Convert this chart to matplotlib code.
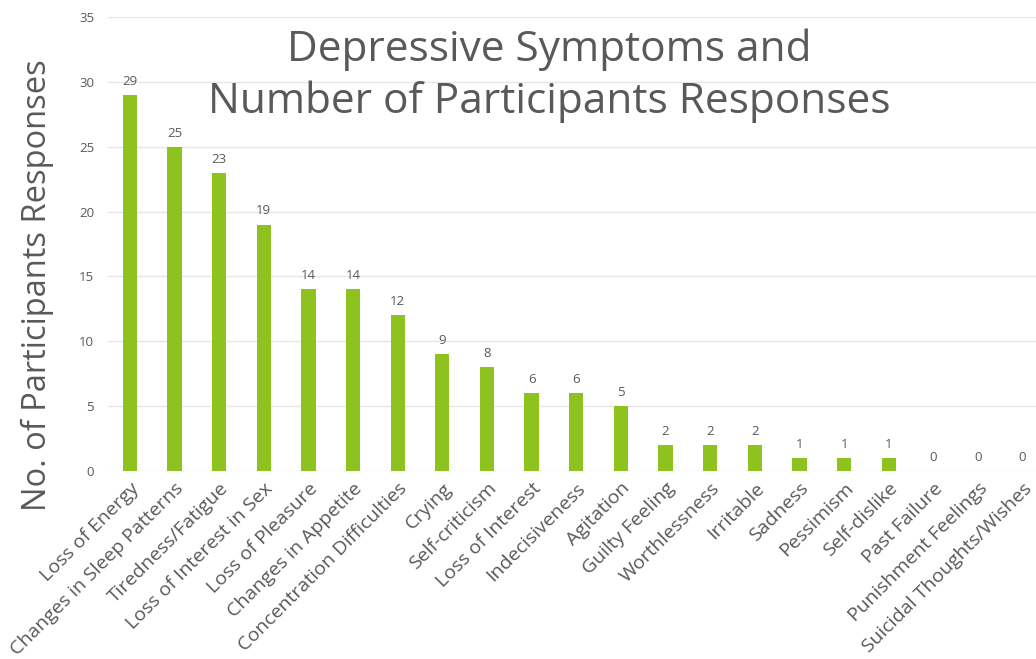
import matplotlib
matplotlib.use("Agg")
import matplotlib.pyplot as plt

categories = ["Loss of Energy", "Changes in Sleep Patterns", "Tiredness/Fatigue",
              "Loss of Interest in Sex", "Loss of Pleasure", "Changes in Appetite",
              "Concentration Difficulties", "Crying", "Self-criticism", "Loss of Interest",
              "Indecisiveness", "Agitation", "Guilty Feeling", "Worthlessness", "Irritable",
              "Sadness", "Pessimism", "Self-dislike", "Past Failure", "Punishment Feelings",
              "Suicidal Thoughts/Wishes"]
values = [29, 25, 23, 19, 14, 14, 12, 9, 8, 6, 6, 5, 2, 2, 2, 1, 1, 1, 0, 0, 0]
yticks = [0, 5, 10, 15, 20, 25, 30, 35]

FONT = ["Open Sans", "DejaVu Sans"]
plt.rcParams['font.family'] = FONT
TXT = "#595959"
BAR = "#8DC21F"
GRID = "#E6E6E6"

W, H = 1036, 659
fig = plt.figure(figsize=(W / 100, H / 100), dpi=100)
left, right = 108 / W, 1.0
bottom, top = 1 - 471 / H, 1 - 17 / H
ax = fig.add_axes([left, bottom, right - left, top - bottom])

x = list(range(len(categories)))
bars = ax.bar(x, values, width=0.32, color=BAR, zorder=3)
for xi, v in zip(x, values):
    ax.text(xi, v + 0.55, str(v), ha="center", va="bottom", fontsize=9.5, color=TXT)

ax.set_ylim(0, 35)
ax.set_xlim(-0.49, len(categories) - 0.7)
ax.set_yticks(yticks)
ax.set_yticklabels([str(t) for t in yticks], fontsize=9.5, color=TXT)
ax.yaxis.grid(True, color=GRID, linewidth=1, zorder=0)
ax.set_axisbelow(True)
for s in ax.spines.values():
    s.set_visible(False)
ax.tick_params(axis="both", length=0)
ax.tick_params(axis="y", pad=10)
ax.set_xticks(x)
ax.set_xticklabels(categories, rotation=45, ha="right", rotation_mode="anchor",
                   fontsize=14, color=TXT)
ax.tick_params(axis="x", pad=6)

fig.text(37 / W, 1 - 285 / H, "No. of Participants Responses", rotation=90,
         ha="center", va="center", fontsize=23.5, color=TXT)

fig.text(549 / W, 1 - 61 / H, "Depressive Symptoms and", ha="center", va="baseline",
         fontsize=30.5, color=TXT)
fig.text(549 / W, 1 - 113 / H, "Number of Participants Responses", ha="center",
         va="baseline", fontsize=30.5, color=TXT)

fig.savefig("out.png", dpi=100, facecolor="white")
